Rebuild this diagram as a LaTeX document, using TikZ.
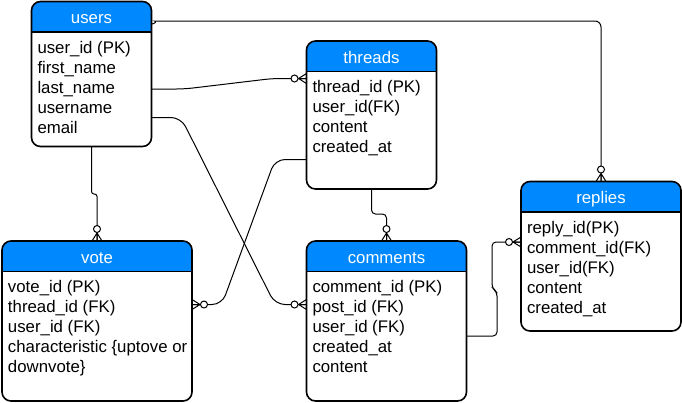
\documentclass[tikz,border=0pt]{standalone}
\usepackage{fontspec}
\setmainfont{Liberation Sans}
\usetikzlibrary{calc,positioning}
\definecolor{hdrblue}{RGB}{0,136,255}

% table: name, left, top, right, bottom, title, rows
\newcommand{\entity}[7]{%
  \node[box, minimum width={(#4-#2)*1pt}, minimum height={(#5-#3)*1pt}] (#1) at ({(#2+#4)/2},{(#3+#5)/2}) {};
  \begin{scope}
    \clip (#1.north west) rectangle ($(#1.north east)+(0,30.5)$);
    \fill[hdr] (#1.north west) rectangle (#1.south east);
  \end{scope}
  \draw[frame] (#1.north west) rectangle (#1.south east);
  \draw[frame] ($(#1.north west)+(0,30.5)$) -- ($(#1.north east)+(0,30.5)$);
  \node[title] at ($(#1.north)+(0,22)$) {#6};
  \foreach \r [count=\i] in {#7}
    \node[row] at ($(#1.north west)+(5.5,{31.5+20*\i})$) {\r};
}
% zero-or-many end: point, outward direction
\newcommand{\zmany}[3]{%
  \draw ($#1+(8*#2,8*#3)$) -- ($#1+(-5*#3,5*#2)$)
        ($#1+(8*#2,8*#3)$) -- #1
        ($#1+(8*#2,8*#3)$) -- ($#1+(5*#3,-5*#2)$);
  \draw[fill=white] ($#1+(12*#2,12*#3)$) circle (3.5pt);
}

\begin{document}
\begin{tikzpicture}[x=1pt, y=-1pt, line width=1pt,
    box/.style={rectangle, inner sep=0pt, outer sep=0pt, fill=white, rounded corners=9pt},
    hdr/.style={fill=hdrblue, rounded corners=9pt},
    frame/.style={draw, line width=1.6pt, rounded corners=9pt},
    title/.style={anchor=base, inner sep=0pt, text=white, font=\fontsize{16.8}{20}\selectfont},
    row/.style={anchor=base west, inner sep=0pt, font=\fontsize{16.8}{20}\selectfont}]
\useasboundingbox (0,0) rectangle (682,402);

\entity{users}{31.5}{1.5}{151.5}{146.5}{users}
  {{user\_id (PK)},{first\_name},{last\_name},{username},{email}}
\entity{threads}{306.5}{41}{436.5}{189}{threads}
  {{thread\_id (PK)},{user\_id(FK)},{content},{created\_at}}
\entity{vote}{2}{241}{192}{401}{vote}
  {{vote\_id (PK)},{thread\_id (FK)},{user\_id (FK)},{characteristic \{uptove or},{downvote\}}}
\entity{comments}{306.5}{241}{466.5}{401}{comments}
  {{comment\_id (PK)},{post\_id (FK)},{user\_id (FK)},{created\_at},{content}}
\entity{replies}{521}{181.5}{681}{331}{replies}
  {{reply\_id(PK)},{comment\_id(FK)},{user\_id(FK)},{content},{created\_at}}

% connector ends
\coordinate (u-top) at ($(users.north east)+(0,22.5)$);
\coordinate (u-last) at ($(users.north east)+(0,87.5)$);
\coordinate (u-user) at ($(users.north east)+(0,116)$);
\coordinate (t-in) at ($(threads.north west)+(0,37.5)$);
\coordinate (t-out) at ($(threads.north west)+(0,118.5)$);
\coordinate (v-in) at ($(vote.north east)+(0,63.5)$);
\coordinate (c-in) at ($(comments.north west)+(0,63.5)$);
\coordinate (c-out) at ($(comments.north east)+(0,95)$);
\coordinate (r-in) at ($(replies.north west)+(0,60.5)$);

\draw[rounded corners=6pt] (u-top) to[out=0,in=180] ++(9,-3) -| (replies.north);
\draw[rounded corners=8pt] (u-last) -- ++(33,0) -- ($(t-in)+(-34,0)$) -- (t-in);
\draw[rounded corners=10pt] (u-user) -- ++(29.5,0) -- ($(c-in)+(-31.5,0)$) -- (c-in);
\draw[rounded corners=10pt] (t-out) -- ++(-31.5,0) -- ($(v-in)+(30,0)$) -- (v-in);
\draw[rounded corners=2.5pt] (users.south) -- ++(0,47.5) -| (vote.north);
\draw[rounded corners=4pt] (threads.south) -- ++(0,25) -| (comments.north);
\draw[rounded corners=4pt] (c-out) -- ++(30.5,0) -- ++(0,-44) -- ++(-5,-4) |- (r-in);

\zmany{(replies.north)}{0}{-1}
\zmany{(t-in)}{-1}{0}
\zmany{(vote.north)}{0}{-1}
\zmany{(comments.north)}{0}{-1}
\zmany{(c-in)}{-1}{0}
\zmany{(v-in)}{1}{0}
\zmany{(r-in)}{-1}{0}
\end{tikzpicture}
\end{document}
